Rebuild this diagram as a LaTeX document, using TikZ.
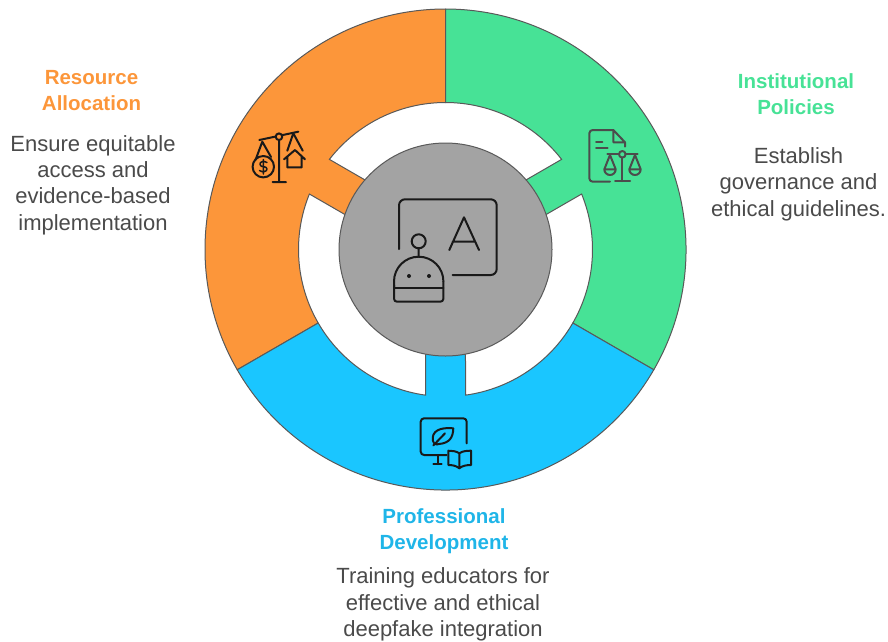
\documentclass[tikz,border=0pt]{standalone}
\usepackage{fontspec}
\setmainfont{Liberation Sans}
\definecolor{co}{HTML}{FC963A}
\definecolor{cg}{HTML}{47E296}
\definecolor{cb}{HTML}{1AC6FF}
\definecolor{cc}{HTML}{A3A3A3}
\definecolor{hb}{HTML}{1FB5E8}
\definecolor{tx}{HTML}{4A4A4A}
\tikzset{
 seg/.style={draw=black!65,line width=1pt,line join=miter},
 ico/.style={draw=#1,line width=2pt,line cap=round,line join=round},
 ico/.default=black!90,
 head/.style={font=\fontsize{20.5}{26.5}\selectfont\bfseries,align=center,inner sep=0pt},
 body/.style={font=\fontsize{22}{26.4}\selectfont,text=tx,align=center,inner sep=0pt}
}
\newcommand{\seg}[3]{% start angle, colour, bar axis
 \fill[#2] (#1:240.5) arc[start angle=#1,end angle=#1+120,radius=240.5]
 -- (#1+120:147) arc[start angle=#1+120,end angle=#3+7.82,radius=147]
 -- (#3+10.82:106.5) -- (#3-10.82:106.5) -- (#3-7.82:147)
 arc[start angle=#3-7.82,end angle=#1,radius=147] -- cycle;
 \draw[seg] (#1:147) -- (#1:240.5) arc[start angle=#1,end angle=#1+120,radius=240.5] -- (#1+120:147)
 arc[start angle=#1+120,end angle=#3+7.82,radius=147]
 -- (#3+10.82:106.5) (#3-10.82:106.5) -- (#3-7.82:147)
 arc[start angle=#3-7.82,end angle=#1,radius=147];
}
\begin{document}
\begin{tikzpicture}[x=1pt,y=-1pt]
\useasboundingbox (0,0) rectangle (888,641);
\begin{scope}[shift={(445.5,249.5)},y=1pt]
 \seg{90}{co}{150}
 \seg{-30}{cg}{30}
 \seg{210}{cb}{270}
\end{scope}
\node[circle,draw=black!65,line width=1pt,fill=cc,minimum size=213pt,inner sep=0pt] (hub) at (445.5,249.5) {};
% hub icon
\draw[ico,rounded corners=6pt] (399,249) -- (399,199.3) -- (496.7,199.3) -- (496.7,275) -- (452.7,275);
\draw[ico] (449.3,250) -- (464,217.3) -- (479,250) (452.7,241.7) -- (475.3,241.7);
\draw[ico] (418.7,241.3) circle[radius=7] (418.7,248.3) -- (418.7,256.7);
\draw[ico] (394,287.7) -- (394,281.4) arc[start angle=180,end angle=360,radius=24.7];
\draw[ico,rounded corners=3pt] (394,285) -- (394,301.7) -- (443.4,301.7) -- (443.4,281.4);
\draw[ico] (394,287.7) -- (443.4,287.7);
\fill[black!90] (409,276) circle[radius=2] (429,276) circle[radius=2];
% orange icon
\draw[ico] (259.3,140) -- (298.3,131.7) (279,140) -- (279,181.7) (272.7,182) -- (286,182);
\fill[co] (279,136.7) circle[radius=3.3];
\draw[ico] (279,136.7) circle[radius=3.3];
\draw[ico] (255.5,160) -- (262.3,141.7) -- (271,157);
\draw[ico] (263.3,166.7) circle[radius=10.7];
\draw[ico,line width=1.5pt] (267,162.5) .. controls (264,160.5) and (259.5,161.5) .. (260,164.5) .. controls (260.5,168) and (267,165.5) .. (267,169) .. controls (267,172) and (262,172.5) .. (259.5,170.5) (263.3,159.5) -- (263.3,174);
\draw[ico] (287.3,150.7) -- (293.3,133.3) -- (302.7,150.7);
\draw[ico] (284,159.3) -- (295,150) -- (305,159.3) (287.3,156.7) -- (287.3,167.3) -- (301.7,167.3) -- (301.7,156.7);
% green icon
\draw[ico=black!70,rounded corners=3.4pt] (610,181.7) -- (589.3,181.7) -- (589.3,130) -- (613.3,130);
\draw[ico=black!70] (613.3,130) -- (625,142.3) -- (625,146.7) (613.3,130) -- (613.3,142.3) -- (625,142.3);
\draw[ico=black!70] (596,141.7) -- (602.3,141.7) (596,148.3) -- (607.7,148.3);
\draw[ico=black!70] (607.3,154.3) -- (619,154.3) (625.6,154.3) -- (637.7,154.3) (622.3,157.6) -- (622.3,181) (615,181) -- (630,181);
\draw[ico=black!70] (622.3,154.3) circle[radius=3.3];
\draw[ico=black!70] (604.3,169.3) -- (610,155) -- (615.7,169.3) -- cycle (604.3,169.3) arc[start angle=180,end angle=0,radius=5.7];
\draw[ico=black!70] (629.3,169.3) -- (635,155) -- (640.7,169.3) -- cycle (629.3,169.3) arc[start angle=180,end angle=0,radius=5.7];
% blue icon
\draw[ico,rounded corners=3.4pt] (466.7,443.3) -- (466.7,418.3) -- (420.7,418.3) -- (420.7,455) -- (446.7,455);
\draw[ico] (437.7,455) -- (437.7,464) (433.3,464) -- (441.7,464);
\draw[ico] (453.3,428.3) .. controls (440,427) and (431,431) .. (433,441) .. controls (434,444) and (436,445) .. (439,444) .. controls (450,443) and (453,437) .. (453.3,428.3) (433.3,445.5) -- (445,433.3);
\draw[ico] (459.3,453.3) .. controls (456,451) and (452,450.7) .. (448.3,450.7) -- (448.3,465) .. controls (452,465) and (456,465.5) .. (459.3,468.3) .. controls (462.5,465.5) and (467,465) .. (471,465) -- (471,450.7) .. controls (467,450.7) and (462.5,451) .. (459.3,453.3) -- (459.3,468.3);
% texts
\node[head,text=co] (h1) at (91.5,90.5) {Resource\\Allocation};
\node[body] (b1) at (93,185) {Ensure equitable\\access and\\evidence-based\\implementation};
\node[head,text=cg] (h2) at (796,94) {Institutional\\Policies};
\node[body] (b2) at (798.5,184) {Establish\\governance and\\ethical guidelines.};
\node[head,text=hb] (h3) at (444,531) {Professional\\Development};
\node[body] (b3) at (443,604.5) {Training educators for\\effective and ethical\\deepfake integration};
\end{tikzpicture}
\end{document}
